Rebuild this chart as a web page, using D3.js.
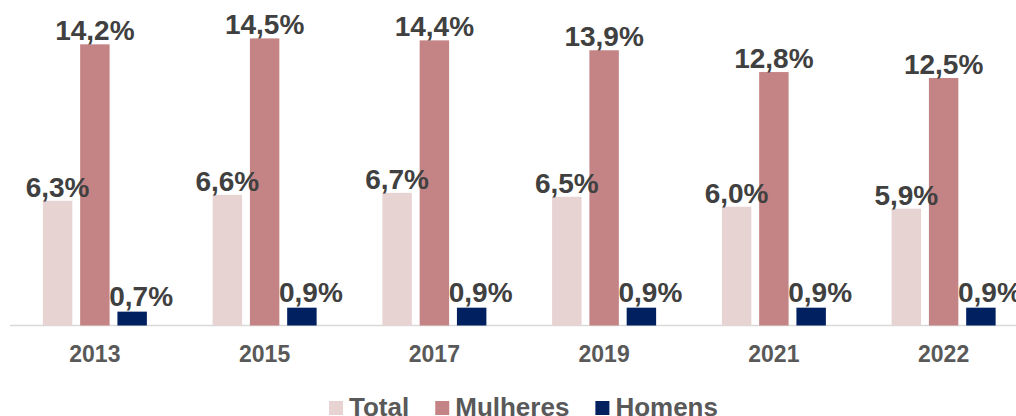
<!DOCTYPE html>
<html>
<head>
<meta charset="utf-8">
<script src="https://cdn.jsdelivr.net/npm/d3@7"></script>
<style>
  html, body { margin: 0; padding: 0; background: #fff; }
  svg { display: block; font-family: "Liberation Sans", Arial, sans-serif; font-weight: bold; }
</style>
</head>
<body>
<div id="chart"></div>
<script>
// data -------------------------------------------------------------------------
const years = ['2013', '2015', '2017', '2019', '2021', '2022'];
const seriesNames = ['Total', 'Mulheres', 'Homens'];
const totalValues = [6.3, 6.6, 6.7, 6.5, 6.0, 5.9];
const mulheresValues = [14.2, 14.5, 14.4, 13.9, 12.8, 12.5];
const homensValues = [0.7, 0.9, 0.9, 0.9, 0.9, 0.9];
const seriesColors = ['#e8d3d3', '#c48384', '#002060'];

// svg --------------------------------------------------------------------------
const width = 1016;
const height = 416;
const svg = d3.select('#chart').append('svg')
  .attr('width', width)
  .attr('height', height)
  .attr('viewBox', '0 0 ' + width + ' ' + height);

const baseY = 325.5;
const y = d3.scaleLinear()
  .domain([0, 16])
  .range([baseY, baseY - 16 * 19.8]);

const x0 = d3.scaleBand()
  .domain(years)
  .range([10, 1028.5])
  .padding(0);

const x1 = d3.scaleBand()
  .domain(seriesNames)
  .range([x0.bandwidth() / 2 - 52, x0.bandwidth() / 2 + 52])
  .paddingInner(0.21)
  .paddingOuter(0);

const rows = years.map((yr, i) => ({
  year: yr,
  values: [
    {name: 'Total', value: totalValues[i]},
    {name: 'Mulheres', value: mulheresValues[i]},
    {name: 'Homens', value: homensValues[i]}
  ]
}));
const color = d3.scaleOrdinal().domain(seriesNames).range(seriesColors);
const fmt = v => d3.format('.1f')(v).replace('.', ',') + '%';

// axis line --------------------------------------------------------------------
svg.append('line')
  .attr('x1', 10)
  .attr('x2', width)
  .attr('y1', baseY)
  .attr('y2', baseY)
  .attr('stroke', '#d9d9d9')
  .attr('stroke-width', 1.5);

// bars -------------------------------------------------------------------------
const groups = svg.append('g').selectAll('g')
  .data(rows)
  .enter().append('g')
  .attr('transform', d => 'translate(' + x0(d.year) + ',0)');

groups.selectAll('rect')
  .data(d => d.values)
  .enter().append('rect')
  .attr('x', d => x1(d.name))
  .attr('width', x1.bandwidth())
  .attr('y', d => y(d.value))
  .attr('height', d => baseY - y(d.value))
  .attr('fill', d => color(d.name));

// value labels ---------------------------------------------------------------
groups.selectAll('text.val')
  .data(d => d.values)
  .enter().append('text')
  .attr('class', 'val')
  .attr('x', d => x1(d.name) + x1.bandwidth() / 2 + (d.name === 'Homens' ? 9 : 0))
  .attr('y', d => y(d.value) - (d.name === 'Homens' ? 6 : 4))
  .attr('text-anchor', 'middle')
  .attr('font-size', '28px')
  .attr('fill', '#404040')
  .text(d => fmt(d.value));

// x axis labels ----------------------------------------------------------------
svg.append('g').selectAll('text')
  .data(years)
  .enter().append('text')
  .attr('x', d => x0(d) + x0.bandwidth() / 2)
  .attr('y', 361.5)
  .attr('text-anchor', 'middle')
  .attr('font-size', '23px')
  .attr('fill', '#595959')
  .text(d => d);

// legend -----------------------------------------------------------------------
const legend = svg.append('g');
const items = legend.selectAll('g')
  .data(seriesNames)
  .enter().append('g');
items.append('rect')
  .attr('width', 14)
  .attr('height', 14)
  .attr('y', 401)
  .attr('fill', d => color(d));
items.append('text')
  .attr('x', 20)
  .attr('y', 416)
  .attr('font-size', '26px')
  .attr('fill', '#595959')
  .text(d => d);
let cursor = 0;
items.each(function () {
  const g = d3.select(this);
  g.attr('transform', 'translate(' + cursor + ',0)');
  cursor += 20 + g.select('text').node().getComputedTextLength() + 26;
});
const legendWidth = cursor - 26;
legend.attr('transform', 'translate(' + (523.5 - legendWidth / 2) + ',0)');
</script>
</body>
</html>
